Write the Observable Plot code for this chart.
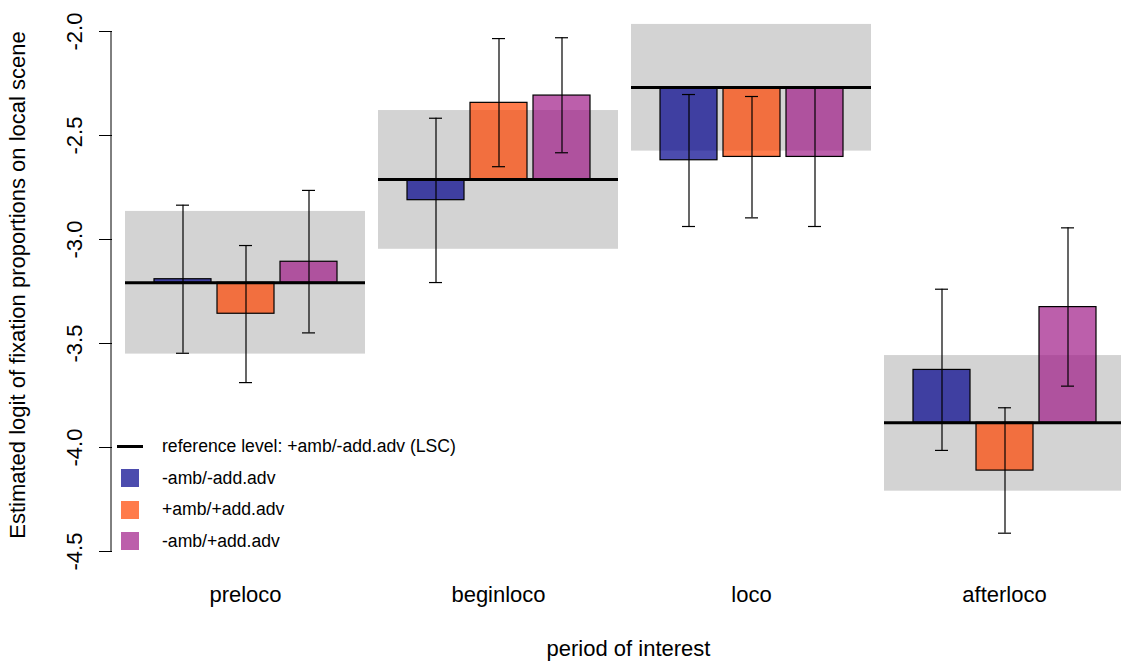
<!DOCTYPE html>
<html>
<head>
<meta charset="utf-8">
<script src="https://cdn.jsdelivr.net/npm/d3@7"></script>
<script src="https://cdn.jsdelivr.net/npm/@observablehq/plot@0.6"></script>
<style>
html, body { margin: 0; padding: 0; background: #fff; overflow: hidden; }
#wrap { position: relative; width: 1121px; height: 661px; overflow: hidden; font-family: "Liberation Sans", Arial, sans-serif; }
#wrap svg { max-width: none !important; }
#legend { position: absolute; left: 117px; top: 431px; font-size: 17.6px; color: #000; }
#legend .row { height: 31.5px; display: flex; align-items: center; }
#legend .key { width: 26px; display: flex; justify-content: center; align-items: center; margin-right: 19px; }
#legend .line { width: 26px; height: 3px; background: #000; }
#legend .sw { width: 18px; height: 18px; }
</style>
</head>
<body>
<div id="wrap"></div>
<script>
// ---- data ----
const periods = ["preloco", "beginloco", "loco", "afterloco"];
const seriesNames = ["-amb/-add.adv", "+amb/+add.adv", "-amb/+add.adv"];
const seriesColors = ["#00008B", "#FF4500", "#A01B87"];

// reference level (+amb/-add.adv, LSC) and its confidence band
const refLevel = [-3.208, -2.712, -2.269, -3.881];
const refLower = [-3.551, -3.047, -2.575, -4.210];
const refUpper = [-2.865, -2.380, -1.966, -3.558];

// -amb/-add.adv
const estA = [-3.191, -2.811, -2.619, -3.627];
const lowA = [-3.547, -3.207, -2.9375, -4.014];
const highA = [-2.835, -2.417, -2.303, -3.239];
// +amb/+add.adv
const estB = [-3.357, -2.343, -2.603, -4.111];
const lowB = [-3.688, -2.650, -2.896, -4.412];
const highB = [-3.029, -2.034, -2.3125, -3.809];
// -amb/+add.adv
const estC = [-3.107, -2.308, -2.603, -3.325];
const lowC = [-3.449, -2.583, -2.9375, -3.705];
const highC = [-2.764, -2.030, -2.269, -2.944];

const yTicks = [-2.0, -2.5, -3.0, -3.5, -4.0, -4.5];
const yTitle = "Estimated logit of fixation proportions on local scene";
const xTitle = "period of interest";
const refLegendLabel = "reference level: +amb/-add.adv (LSC)";

// ---- tables built from the arrays ----
const groups = periods.map((p, i) => ({period: p, ref: refLevel[i], lower: refLower[i], upper: refUpper[i]}));
const seriesData = [[estA, lowA, highA], [estB, lowB, highB], [estC, lowC, highC]];
const rows = [];
periods.forEach((p, i) => {
  seriesNames.forEach((s, j) => {
    const [e, l, h] = seriesData[j];
    rows.push({period: p, series: s, ref: refLevel[i], est: e[i], lo: l[i], hi: h[i]});
  });
});

const W = 1125, H = 661, ML = 124, MT = 31, MB = 110, AXIS_OFFSET = 13;

const plot = Plot.plot({
  width: W, height: H,
  marginLeft: ML, marginRight: 0, marginTop: MT, marginBottom: MB,
  style: {fontFamily: "'Liberation Sans', Arial, sans-serif", fontSize: "22px", background: "white", color: "black", maxWidth: "none"},
  fx: {domain: periods, paddingInner: 0.05, paddingOuter: 0, label: null},
  x: {domain: seriesNames, paddingInner: 0.102, paddingOuter: 0.449, axis: null},
  y: {domain: [yTicks[yTicks.length - 1], yTicks[0]]},
  color: {domain: seriesNames, range: seriesColors},
  marks: [
    Plot.rect(groups, {fx: "period", y1: "lower", y2: "upper", fill: "#d3d3d3"}),
    Plot.barY(rows, {fx: "period", x: "series", y1: "ref", y2: "est", fill: "series", fillOpacity: 0.7, stroke: "black", strokeWidth: 1.2}),
    Plot.ruleY(groups, {fx: "period", y: "ref", stroke: "black", strokeWidth: 3}),
    Plot.ruleX(rows, {fx: "period", x: "series", y1: "lo", y2: "hi", stroke: "black", strokeWidth: 1.2}),
    Plot.tickY(rows, {fx: "period", x: "series", y: "lo", stroke: "black", strokeWidth: 1.2, insetLeft: 22, insetRight: 22}),
    Plot.tickY(rows, {fx: "period", x: "series", y: "hi", stroke: "black", strokeWidth: 1.2, insetLeft: 22, insetRight: 22}),
    Plot.axisY({ticks: yTicks, tickFormat: d => d.toFixed(1), tickSize: 13, tickPadding: 18, tickRotate: -90, dx: -AXIS_OFFSET, label: null, fontSize: 22}),
    Plot.axisFx({anchor: "bottom", tickSize: 0, tickPadding: 35, label: null, fontSize: 22})
  ]
});

// y axis domain line and axis titles, positioned with the plot's scales
const ys = plot.scale("y");
const fxs = plot.scale("fx");
const svg = d3.select(plot);
const axX = ML - AXIS_OFFSET;
svg.append("line")
  .attr("x1", axX).attr("x2", axX)
  .attr("y1", ys.apply(yTicks[0])).attr("y2", ys.apply(yTicks[yTicks.length - 1]))
  .attr("stroke", "black").attr("stroke-width", 1);
svg.append("text")
  .attr("transform", `translate(25,${(ys.apply(yTicks[0]) + ys.apply(yTicks[yTicks.length - 1])) / 2 - 6}) rotate(-90)`)
  .attr("text-anchor", "middle").attr("font-size", 22).attr("fill", "black")
  .text(yTitle);
svg.append("text")
  .attr("x", (fxs.range[0] + fxs.range[1]) / 2 + 4).attr("y", 656)
  .attr("text-anchor", "middle").attr("font-size", 22).attr("fill", "black")
  .text(xTitle);

const wrap = document.getElementById("wrap");
wrap.appendChild(plot);

// legend inside the plot area
const legend = document.createElement("div");
legend.id = "legend";
let html = `<div class="row"><div class="key"><div class="line"></div></div><span>${refLegendLabel}</span></div>`;
seriesNames.forEach((s, j) => {
  html += `<div class="row"><div class="key"><div class="sw" style="background:${seriesColors[j]};opacity:0.7"></div></div><span>${s}</span></div>`;
});
legend.innerHTML = html;
wrap.appendChild(legend);
</script>
</body>
</html>
